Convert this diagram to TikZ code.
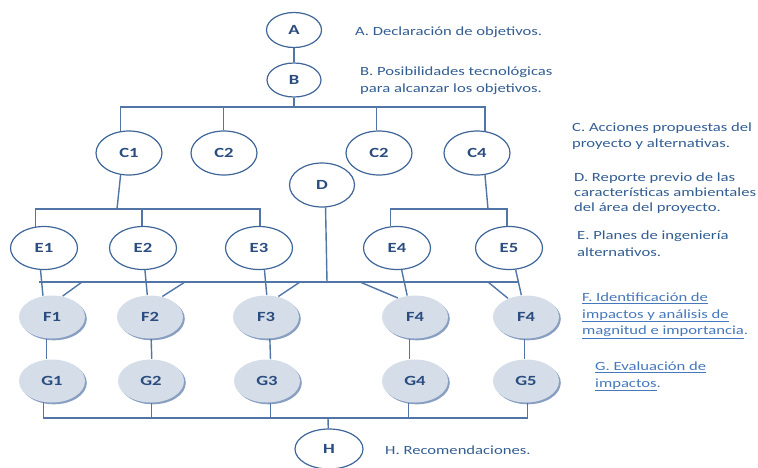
\documentclass[tikz,border=0pt]{standalone}
\usepackage{fontspec}
\setmainfont{Carlito}
\newfontfamily\wide[FakeStretch=1.33]{Carlito}
\usepackage[HTML]{xcolor}
\usepackage{tikz}
\usetikzlibrary{shapes.geometric, shadows}
\definecolor{linec}{HTML}{5075A6}
\definecolor{edgec}{HTML}{3F6699}
\definecolor{labc}{HTML}{2A4C7E}
\definecolor{notec}{HTML}{335D92}
\definecolor{linkc}{HTML}{4678BC}
\definecolor{fillc}{HTML}{D4DDE8}
\definecolor{shadc}{HTML}{889FC2}

\begin{document}
\begin{tikzpicture}[x=1pt, y=-1pt,
  stage/.style={ellipse, draw=edgec, fill=white, line width=1.2pt, inner sep=0pt,
    minimum width=66pt, minimum height=44pt, text=labc, font=\wide\bfseries\fontsize{14}{14}\selectfont},
  impact/.style={stage, draw=none, fill=fillc, minimum width=66pt, minimum height=43pt,
    general shadow={shadow xshift=1.8pt, shadow yshift=-1.8pt, fill=shadc}},
  note/.style={anchor=west, align=left, inner sep=0pt, text=notec, font=\wide\fontsize{12.5}{16.5}\selectfont},
  link/.style={draw=linec, line width=1.4pt}]
\useasboundingbox (0,0) rectangle (758,467);

% stages
\node[stage, minimum width=55pt, minimum height=35pt] (A) at (294,30) {A};
\node[stage, minimum width=54pt, minimum height=34pt] (B) at (294,80) {B};
\foreach \n/\x/\t in {C1/129/C1, C2/224/C2, C3/379/C2, C4/477/C4}
  \node[stage] (\n) at (\x,153) {\t};
\node[stage, minimum width=65pt] (D) at (322,185) {D};
\foreach \i/\x in {1/44, 2/143, 3/259, 4/397, 5/509}
  \node[stage, minimum width=67pt, minimum height=43pt] (E\i) at (\x,248) {E\i};
\foreach \i/\x/\t in {1/52/F1, 2/150/F2, 3/266/F3, 4/415/F4, 5/526/F4}
  \node[impact] (F\i) at (\x,317) {\t};
\foreach \i/\x in {1/52, 2/151, 3/267, 4/415, 5/526}
  \node[impact] (G\i) at (\x,381) {G\i};
\node[stage, minimum width=68pt, minimum height=40pt] (H) at (329,449) {H};

% junctions
\coordinate (bJ) at (294,107);
\coordinate (eL) at (117,209);
\coordinate (eR) at (488,209);
\coordinate (dJ) at (327,282);
\coordinate (fL) at (39,282);
\coordinate (fR) at (519,282);
\coordinate (hJ) at (328,418);

\draw[link] (A) -- (B);
\draw[link] (B) -- (bJ);
\draw[link] (bJ) -| (C1.111);
\draw[link] (bJ) -| (C4.70);
\foreach \n/\a in {C2/92, C3/97}
  \draw[link] (\n.\a |- bJ) -- (\n.\a);

% C to E
\draw[link] (C1.-111) -- (eL);
\draw[link] (E1.111) |- (eL) -| (E3.87);
\draw[link] (E2.93 |- eL) -- (E2.93);
\draw[link] (C4.-70) -- (eR);
\draw[link] (E4.106) |- (eR) -| (E5.95);

% E and D to F
\draw[link] (D.-81) -- (dJ);
\draw[link] (fL) -- (fR);
\foreach \i/\a/\b in {1/-99/113, 2/-85/97, 3/-76/88, 4/-78/110, 5/-73/102}
  \draw[link] (E\i.\a) -- (F\i.\b);
\foreach \i/\x/\a in {1/82/63, 2/185/59, 3/300/59, 4/360/132, 5/488/134}{
  \coordinate (d\i) at (\x,282);
  \draw[link] (d\i) -- (F\i.\a);}

% F to G to H
\foreach \i/\a/\b in {1/-104/104, 2/-87/88, 3/-80/81, 4/-104/104, 5/-94/94}
  \draw[link] (F\i.\a) -- (G\i.\b);
\draw[link] (G1.-111) |- (hJ) -| (G5.-86);
\foreach \i/\a in {2/-88, 3/-81, 4/-106}
  \draw[link] (G\i.\a) -- (G\i.\a |- hJ);
\draw[link] (hJ) -- (H.92);

% notes
\node[note] (nA) at (355,32) {A. Declaración de objetivos.};
\node[note] (nB) at (360,80.5) {B. Posibilidades tecnológicas\\para alcanzar los objetivos.};
\node[note] (nC) at (572,136) {C. Acciones propuestas del\\proyecto y alternativas.};
\node[note, font=\wide\fontsize{12.5}{15}\selectfont] (nD) at (574,193) {D. Reporte previo de las\\características ambientales\\del área del proyecto.};
\node[note] (nE) at (577,243.5) {E. Planes de ingeniería\\alternativos.};
\node[note, text=linkc] (nF) at (582,316) {\underline{F. Identificación de}\\\underline{impactos y análisis de}\\\underline{magnitud e importancia}.};
\node[note, text=linkc] (nG) at (595,376.5) {\underline{G. Evaluación de}\\\underline{impactos}.};
\node[note] (nH) at (385,450) {H. Recomendaciones.};
\end{tikzpicture}
\end{document}
